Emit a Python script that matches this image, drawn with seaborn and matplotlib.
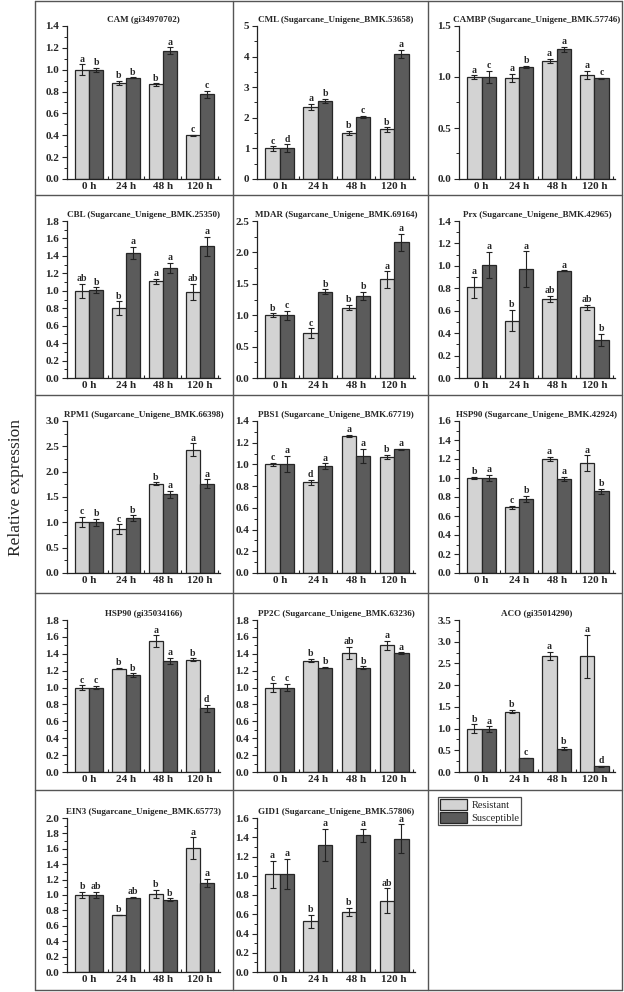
import matplotlib
matplotlib.use("Agg")
import matplotlib.pyplot as plt
from matplotlib.lines import Line2D
from matplotlib.patches import Patch
from matplotlib.ticker import MultipleLocator, FormatStrFormatter
import numpy as np
import pandas as pd
import seaborn as sns

# data
times = ["0 h", "24 h", "48 h", "120 h"]
groups = ["Resistant", "Susceptible"]

titles = ["CAM (gi34970702)", "CML (Sugarcane_Unigene_BMK.53658)", "CAMBP (Sugarcane_Unigene_BMK.57746)",
          "CBL (Sugarcane_Unigene_BMK.25350)", "MDAR (Sugarcane_Unigene_BMK.69164)", "Prx (Sugarcane_Unigene_BMK.42965)",
          "RPM1 (Sugarcane_Unigene_BMK.66398)", "PBS1 (Sugarcane_Unigene_BMK.67719)", "HSP90 (Sugarcane_Unigene_BMK.42924)",
          "HSP90 (gi35034166)", "PP2C (Sugarcane_Unigene_BMK.63236)", "ACO (gi35014290)",
          "EIN3 (Sugarcane_Unigene_BMK.65773)", "GID1 (Sugarcane_Unigene_BMK.57806)"]

res_mean = [[1.00, 0.88, 0.865, 0.40], [1.00, 2.35, 1.50, 1.62], [1.00, 0.99, 1.16, 1.02],
            [1.00, 0.80, 1.11, 0.99], [1.00, 0.71, 1.12, 1.57], [0.81, 0.51, 0.705, 0.63],
            [1.01, 0.86, 1.76, 2.43], [1.00, 0.835, 1.265, 1.07], [1.00, 0.69, 1.20, 1.155],
            [1.00, 1.225, 1.55, 1.33], [1.00, 1.32, 1.41, 1.50], [1.00, 1.39, 2.67, 2.66],
            [1.00, 0.74, 1.01, 1.61], [1.015, 0.525, 0.625, 0.74]]
res_sd = [[0.05, 0.02, 0.01, 0.005], [0.07, 0.10, 0.07, 0.07], [0.015, 0.04, 0.02, 0.04],
          [0.08, 0.08, 0.03, 0.09], [0.03, 0.08, 0.04, 0.13], [0.095, 0.095, 0.03, 0.02],
          [0.10, 0.10, 0.03, 0.13], [0.015, 0.02, 0.008, 0.02], [0.015, 0.02, 0.02, 0.085],
          [0.025, 0.005, 0.07, 0.015], [0.05, 0.02, 0.07, 0.05], [0.10, 0.04, 0.10, 0.50],
          [0.04, 0.005, 0.055, 0.14], [0.14, 0.07, 0.04, 0.13]]
sus_mean = [[1.00, 0.925, 1.175, 0.775], [1.00, 2.55, 2.02, 4.10], [1.00, 1.10, 1.27, 0.99],
            [1.01, 1.43, 1.26, 1.51], [1.00, 1.37, 1.31, 2.16], [1.01, 0.97, 0.955, 0.34],
            [1.00, 1.08, 1.55, 1.76], [1.005, 0.985, 1.08, 1.14], [1.00, 0.78, 0.99, 0.86],
            [1.00, 1.15, 1.315, 0.755], [1.00, 1.235, 1.235, 1.41], [0.99, 0.32, 0.54, 0.13],
            [1.00, 0.965, 0.94, 1.155], [1.02, 1.32, 1.42, 1.385]]
sus_sd = [[0.02, 0.005, 0.03, 0.03], [0.13, 0.08, 0.04, 0.13], [0.06, 0.01, 0.025, 0.005],
          [0.03, 0.07, 0.06, 0.11], [0.07, 0.04, 0.06, 0.14], [0.115, 0.16, 0.005, 0.055],
          [0.07, 0.06, 0.07, 0.09], [0.075, 0.025, 0.065, 0.005], [0.035, 0.035, 0.025, 0.025],
          [0.02, 0.02, 0.035, 0.04], [0.04, 0.008, 0.015, 0.008], [0.06, 0.005, 0.04, 0.01],
          [0.04, 0.01, 0.015, 0.055], [0.155, 0.17, 0.07, 0.15]]
res_letters = [["a", "b", "b", "c"], ["c", "a", "b", "b"], ["a", "a", "a", "a"],
               ["ab", "b", "a", "ab"], ["b", "c", "b", "a"], ["a", "b", "ab", "ab"],
               ["c", "c", "b", "a"], ["c", "d", "a", "b"], ["b", "c", "a", "a"],
               ["c", "b", "a", "b"], ["c", "b", "ab", "a"], ["b", "b", "a", "a"],
               ["b", "b", "b", "a"], ["a", "b", "b", "ab"]]
sus_letters = [["b", "b", "a", "c"], ["d", "b", "c", "a"], ["c", "b", "a", "c"],
               ["b", "a", "a", "a"], ["c", "b", "b", "a"], ["a", "a", "a", "b"],
               ["b", "b", "a", "a"], ["a", "a", "a", "a"], ["a", "b", "a", "b"],
               ["c", "b", "a", "d"], ["c", "b", "b", "a"], ["a", "c", "b", "d"],
               ["ab", "ab", "b", "a"], ["a", "a", "a", "a"]]
y_max = [1.4, 5, 1.5, 1.8, 2.5, 1.4, 3.0, 1.4, 1.6, 1.8, 1.8, 3.5, 2.0, 1.6]
y_step = [0.2, 1, 0.5, 0.2, 0.5, 0.2, 0.5, 0.2, 0.2, 0.2, 0.2, 0.5, 0.2, 0.2]

light = "#d3d3d3"
dark = "#5b5b5b"
edge = "#262626"

sns.set_style("ticks")
plt.rcParams['font.family'] = ['Liberation Serif', 'DejaVu Serif']

W, H = 624, 992
fig = plt.figure(figsize=(W / 100, H / 100), dpi=100)

col_x = [(67, 220), (257, 415), (459, 615)]
row_y = [(26, 179), (221, 378), (421, 573), (620, 772), (818, 972)]

for i, title in enumerate(titles):
    r, c = divmod(i, 3)
    x0, x1 = col_x[c]
    y0, y1 = row_y[r]
    ax = fig.add_axes([x0 / W, 1 - y1 / H, (x1 - x0) / W, (y1 - y0) / H])

    df = pd.DataFrame({
        "time": times * 2,
        "group": [groups[0]] * 4 + [groups[1]] * 4,
        "value": res_mean[i] + sus_mean[i],
    })
    sns.barplot(data=df, x="time", y="value", hue="group", palette=[light, dark],
                width=0.76, edgecolor=edge, linewidth=0.9, errorbar=None,
                legend=False, ax=ax)

    for cont, means, sds, letters in zip(ax.containers[:2], [res_mean[i], sus_mean[i]],
                                         [res_sd[i], sus_sd[i]], [res_letters[i], sus_letters[i]]):
        xs = [b.get_x() + b.get_width() / 2 for b in cont]
        ax.errorbar(xs, means, yerr=sds, fmt="none", ecolor="#222222",
                    elinewidth=0.8, capsize=2, capthick=0.8)
        for x, m, s, t in zip(xs, means, sds, letters):
            ax.annotate(t, (x, m + s), xytext=(0, 0.5), textcoords="offset points",
                        ha="center", va="bottom", fontsize=7, fontweight="bold")

    ax.set_xlim(-0.6, 3.55)
    ax.set_ylim(0, y_max[i])
    ax.yaxis.set_major_locator(MultipleLocator(y_step[i]))
    ax.yaxis.set_minor_locator(MultipleLocator(y_step[i] / 2))
    if y_step[i] >= 1:
        ax.yaxis.set_major_formatter(FormatStrFormatter("%d"))
    else:
        ax.yaxis.set_major_formatter(FormatStrFormatter("%.1f"))
    ax.set_xticks(range(4))
    ax.set_xticklabels(times)
    ax.set_xticks([0.5, 1.5, 2.5, 3.5], minor=True)
    ax.tick_params(axis="x", which="major", length=0, pad=2, labelsize=8)
    ax.tick_params(axis="x", which="minor", length=2.5, direction="in", width=0.8)
    ax.tick_params(axis="y", which="major", length=3.5, width=0.8, pad=2, labelsize=8)
    ax.tick_params(axis="y", which="minor", length=2, width=0.7)
    for lab in ax.get_xticklabels() + ax.get_yticklabels():
        lab.set_fontweight("bold")
    ax.set_xlabel("")
    ax.set_ylabel("")
    sns.despine(ax=ax)
    for sp in ["left", "bottom"]:
        ax.spines[sp].set_linewidth(0.9)
        ax.spines[sp].set_color("#222222")
    ax.set_title(title, fontsize=6.5, fontweight="bold", pad=3)

# panel grid lines
grid_col = "#555555"
xs_lines = [35, 233, 428, 622]
ys_lines = [1, 195, 395, 593, 790, 990]
for x in xs_lines:
    fig.add_artist(Line2D([x / W, x / W], [1 - ys_lines[0] / H, 1 - ys_lines[-1] / H],
                          color=grid_col, lw=1))
for y in ys_lines:
    fig.add_artist(Line2D([xs_lines[0] / W, xs_lines[-1] / W], [1 - y / H, 1 - y / H],
                          color=grid_col, lw=1))

fig.text(16 / W, 1 - 487 / H, "Relative expression", rotation=90, fontsize=12.5,
         ha="center", va="center")

handles = [Patch(facecolor=light, edgecolor=edge, lw=0.9, label=groups[0]),
           Patch(facecolor=dark, edgecolor=edge, lw=0.9, label=groups[1])]
leg = fig.legend(handles=handles, loc="upper left", bbox_to_anchor=(438 / W, 1 - 797 / H),
                 fontsize=7.5, frameon=True, fancybox=False, edgecolor="#222222",
                 handlelength=2.6, handleheight=1.2, handletextpad=0.4,
                 borderpad=0.2, labelspacing=0.2, borderaxespad=0)
leg.get_frame().set_linewidth(0.9)

fig.savefig("out.png", dpi=100)
